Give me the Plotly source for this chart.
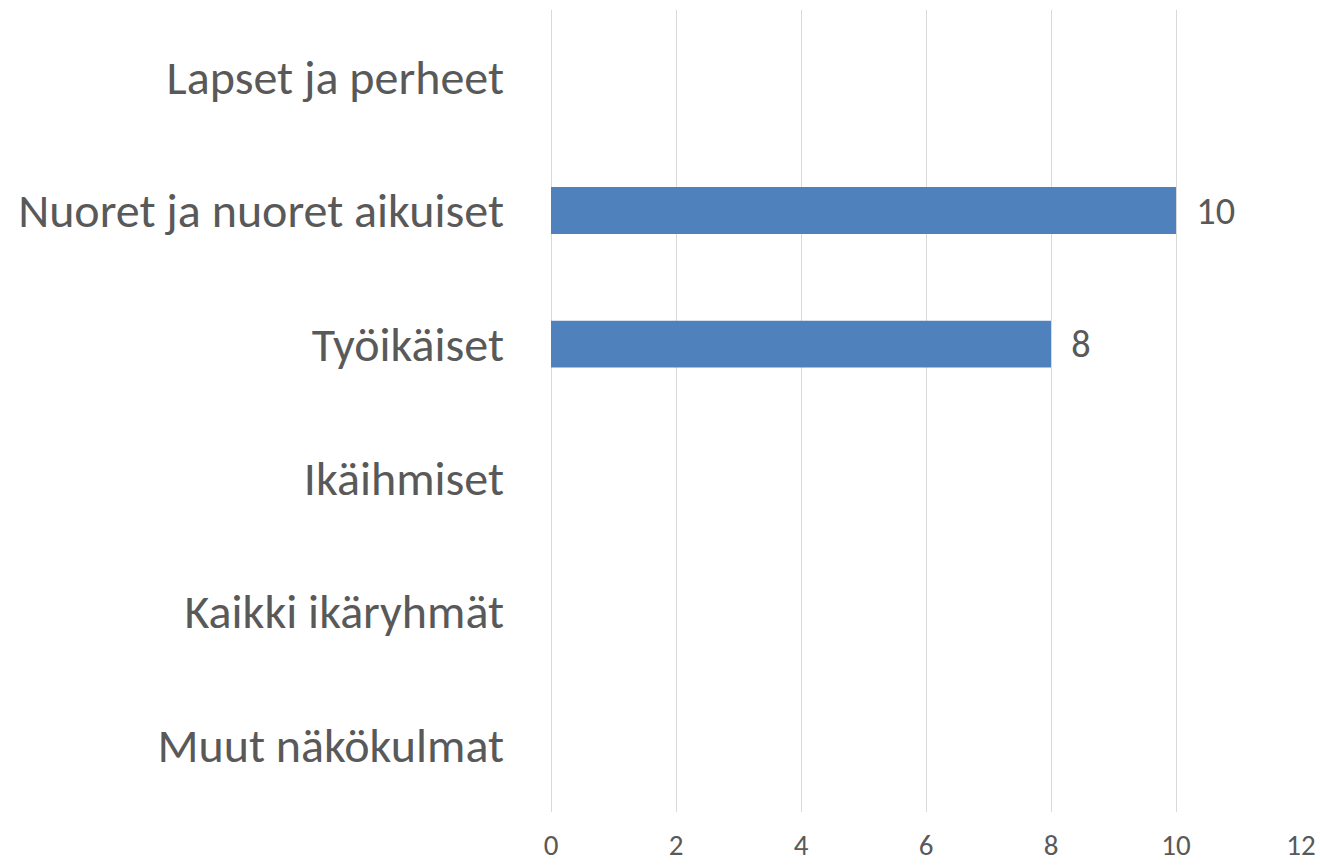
import plotly.graph_objects as go

categories = ["Lapset ja perheet", "Nuoret ja nuoret aikuiset", "Työikäiset",
              "Ikäihmiset", "Kaikki ikäryhmät", "Muut näkökulmat"]
values = [None, 10, 8, None, None, None]
x_ticks = [0, 2, 4, 6, 8, 10, 12]

FONT = "Carlito, Lato, sans-serif"
TXT = "#595959"

fig = go.Figure(go.Bar(
    y=categories, x=values, orientation="h",
    marker=dict(color="#4F81BD", line=dict(width=0)),
    text=[f"{v}" if v is not None else "" for v in values],
    texttemplate="  %{text}",
    textposition="outside", cliponaxis=False,
    textfont=dict(family=FONT, size=45, color=TXT),
    width=0.35,
))

fig.update_layout(
    width=1320, height=866,
    margin=dict(l=551, r=19, t=10, b=54, autoexpand=False),
    paper_bgcolor="white", plot_bgcolor="white",
    showlegend=False,
    font=dict(family=FONT, color=TXT),
)
fig.update_xaxes(range=[0, 12], tickvals=x_ticks, ticktext=[str(t) for t in x_ticks],
                 showgrid=True, gridcolor="#D9D9D9", gridwidth=1.3,
                 zeroline=True, zerolinecolor="#D9D9D9", zerolinewidth=1.3,
                 showline=False, ticks="", ticklabelstandoff=13, automargin=False,
                 tickfont=dict(family=FONT, size=29, color=TXT))
fig.update_yaxes(autorange="reversed", categoryorder="array", categoryarray=categories,
                 showgrid=False, zeroline=False, showline=False, ticks="",
                 ticklabelstandoff=46, automargin=False,
                 tickfont=dict(family=FONT, size=48, color=TXT))

fig.write_html(
    "out.html",
    config={"displayModeBar": False},
    post_script="document.body.style.margin='0';document.body.style.overflow='hidden';",
)
